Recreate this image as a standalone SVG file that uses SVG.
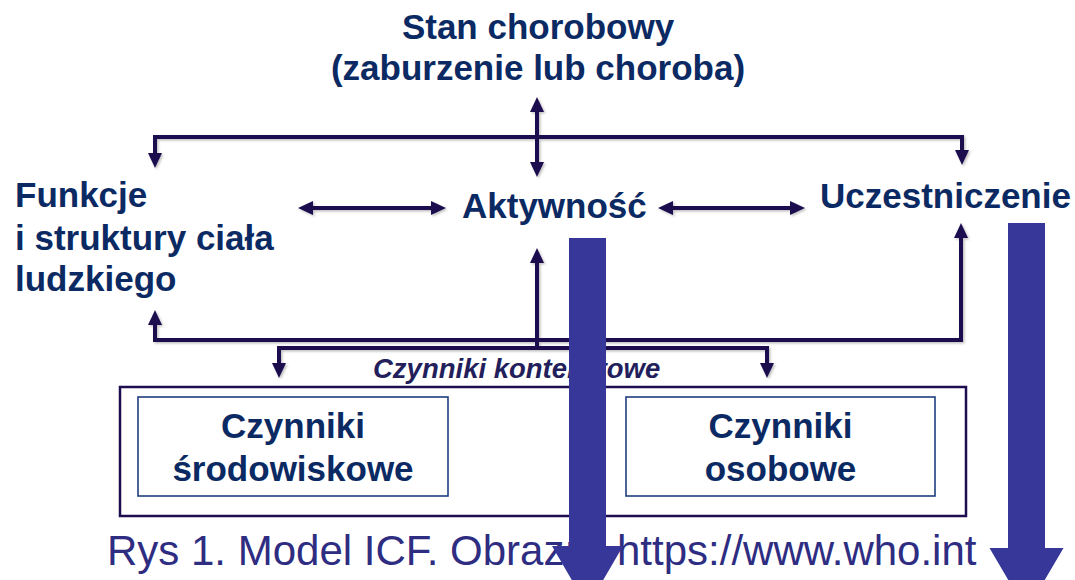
<svg xmlns="http://www.w3.org/2000/svg" width="1075" height="580" viewBox="0 0 1075 580">
  <style>
    .lbl { font-family: "Liberation Sans", Arial, sans-serif; font-weight: bold; font-size: 35px; fill: #0b2a63; }
    .ctx { font-family: "Liberation Sans", Arial, sans-serif; font-weight: bold; font-style: italic; font-size: 27.5px; fill: #231f5c; }
    .cap { font-family: "Liberation Sans", Arial, sans-serif; font-size: 42px; fill: #2e2d82; }
    .conn { fill: none; stroke: #1e0e50; stroke-width: 4; stroke-linejoin: miter; }
    .outer { fill: #ffffff; stroke: #1e0e50; stroke-width: 2.5; }
    .inner { fill: #ffffff; stroke: #1f3f80; stroke-width: 1.6; }
    .big { fill: #373699; }
  </style>
  <defs>
    <marker id="ah" viewBox="0 0 15 14" refX="3" refY="7" markerWidth="15" markerHeight="14" orient="auto-start-reverse" markerUnits="userSpaceOnUse">
      <path d="M0,0 L15,7 L0,14 z" fill="#1e0e50"/>
    </marker>
    <filter id="shadow" x="-5%" y="-5%" width="110%" height="110%">
      <feDropShadow dx="1.5" dy="1.5" stdDeviation="1" flood-color="#000000" flood-opacity="0.25"/>
    </filter>
  </defs>

  <rect width="1075" height="580" fill="#ffffff"/>

  <!-- contextual factors frame -->
  <g id="kontekst">
    <rect class="outer" x="120" y="387" width="846" height="129"/>
  </g>

  <g id="srodowiskowe">
    <rect class="inner" x="138" y="397" width="310" height="99"/>
    <text class="lbl" x="293" y="438" text-anchor="middle">Czynniki</text>
    <text class="lbl" x="293" y="481" text-anchor="middle">środowiskowe</text>
  </g>

  <g id="osobowe">
    <rect class="inner" x="626" y="397" width="309" height="99"/>
    <text class="lbl" x="780.5" y="438" text-anchor="middle">Czynniki</text>
    <text class="lbl" x="780.5" y="481" text-anchor="middle">osobowe</text>
  </g>

  <g id="stan">
    <text class="lbl" x="538" y="39" text-anchor="middle">Stan chorobowy</text>
    <text class="lbl" x="538" y="80" text-anchor="middle">(zaburzenie lub choroba)</text>
  </g>

  <g id="funkcje">
    <text class="lbl" x="15" y="207">Funkcje</text>
    <text class="lbl" x="15" y="250">i struktury ciała</text>
    <text class="lbl" x="15" y="291">ludzkiego</text>
  </g>

  <g id="aktywnosc">
    <text class="lbl" x="462" y="218">Aktywność</text>
  </g>

  <g id="uczestniczenie">
    <text class="lbl" x="820" y="208">Uczestniczenie</text>
  </g>

  <!-- connectors -->
  <g id="connectors" filter="url(#shadow)">
    <path class="conn" d="M537,109 V165" marker-start="url(#ah)" marker-end="url(#ah)"/>
    <path class="conn" d="M155,156 V137 H962 V153" marker-start="url(#ah)" marker-end="url(#ah)"/>
    <path class="conn" d="M310,208 H434" marker-start="url(#ah)" marker-end="url(#ah)"/>
    <path class="conn" d="M670,208 H793" marker-start="url(#ah)" marker-end="url(#ah)"/>
    <path class="conn" d="M155,322 V340 H961 V235" marker-start="url(#ah)" marker-end="url(#ah)"/>
    <path class="conn" d="M279,366 V348 H767 V366" marker-start="url(#ah)" marker-end="url(#ah)"/>
    <path class="conn" d="M537,348 V260" marker-end="url(#ah)"/>
  </g>

  <text class="ctx" x="373" y="378">Czynniki kontekstowe</text>

  <g id="podpis">
    <text class="cap" x="107" y="565">Rys 1. Model ICF. Obraz: <tspan x="617">https://www.who.int</tspan></text>
  </g>

  <!-- large downward arrows -->
  <g id="strzalki">
    <path class="big" d="M569,238 H606 V546 H623 L587.5,607 L552,546 H569 Z"/>
    <path class="big" d="M1008,223 H1045 V548 H1063.5 L1026.5,611 L989.5,548 H1008 Z"/>
  </g>
</svg>
